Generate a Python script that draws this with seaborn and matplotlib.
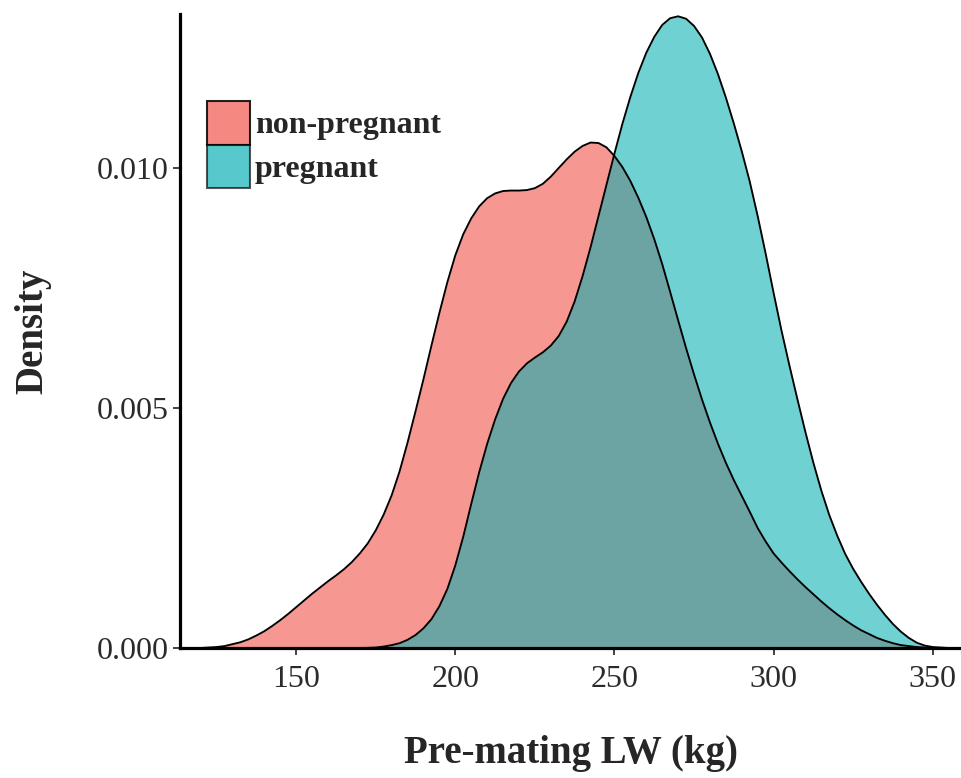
import numpy as np
import pandas as pd
import matplotlib
matplotlib.use("Agg")
import matplotlib.pyplot as plt
from matplotlib.patches import Patch
from matplotlib.ticker import FormatStrFormatter
import seaborn as sns

# Kernel density estimates of pre-mating live weight, by pregnancy status
groups = ["non-pregnant", "pregnant"]

nonpreg_lw = [120.0, 122.5, 125.0, 127.5, 130.0, 132.5, 135.0, 137.5, 140.0,
              142.5, 145.0, 147.5, 150.0, 152.5, 155.0, 157.5, 160.0, 162.5,
              165.0, 167.5, 170.0, 172.5, 175.0, 177.5, 180.0, 182.5, 185.0,
              187.5, 190.0, 192.5, 195.0, 197.5, 200.0, 202.5, 205.0, 207.5,
              210.0, 212.5, 215.0, 217.5, 220.0, 222.5, 225.0, 227.5, 230.0,
              232.5, 235.0, 237.5, 240.0, 242.5, 245.0, 247.5, 250.0, 252.5,
              255.0, 257.5, 260.0, 262.5, 265.0, 267.5, 270.0, 272.5, 275.0,
              277.5, 280.0, 282.5, 285.0, 287.5, 290.0, 292.5, 295.0, 297.5,
              300.0, 302.5, 305.0, 307.5, 310.0, 312.5, 315.0, 317.5, 320.0,
              322.5, 325.0, 327.5, 330.0, 332.5, 335.0, 337.5, 340.0, 342.5,
              345.0, 347.5, 350.0]
nonpreg_density = [0.0, 0.00001, 0.00002, 0.00004, 0.00008, 0.00012, 0.00018,
                   0.00026, 0.00035, 0.00046, 0.00058, 0.00071, 0.00085,
                   0.00099, 0.00113, 0.00126, 0.00139, 0.00151, 0.00164,
                   0.00179, 0.00197, 0.00218, 0.00245, 0.00278, 0.00318,
                   0.00368, 0.00428, 0.00493, 0.00560, 0.00630, 0.00698,
                   0.00762, 0.00818, 0.00862, 0.00895, 0.00920, 0.00937,
                   0.00947, 0.00952, 0.00953, 0.00953, 0.00954, 0.00958,
                   0.00967, 0.00982, 0.01000, 0.01018, 0.01034, 0.01046,
                   0.01053, 0.01052, 0.01043, 0.01025, 0.01002, 0.00973,
                   0.00938, 0.00898, 0.00852, 0.00800, 0.00742, 0.00683,
                   0.00625, 0.00570, 0.00518, 0.00470, 0.00426, 0.00386,
                   0.00350, 0.00317, 0.00284, 0.00250, 0.00222, 0.00197,
                   0.00178, 0.00160, 0.00143, 0.00127, 0.00112, 0.00097,
                   0.00083, 0.00070, 0.00058, 0.00047, 0.00037, 0.00029,
                   0.00021, 0.00015, 0.00010, 0.00006, 0.00004, 0.00002,
                   0.00001, 0.0]

preg_lw = [170.0, 172.5, 175.0, 177.5, 180.0, 182.5, 185.0, 187.5, 190.0,
           192.5, 195.0, 197.5, 200.0, 202.5, 205.0, 207.5, 210.0, 212.5,
           215.0, 217.5, 220.0, 222.5, 225.0, 227.5, 230.0, 232.5, 235.0,
           237.5, 240.0, 242.5, 245.0, 247.5, 250.0, 252.5, 255.0, 257.5,
           260.0, 262.5, 265.0, 267.5, 270.0, 272.5, 275.0, 277.5, 280.0,
           282.5, 285.0, 287.5, 290.0, 292.5, 295.0, 297.5, 300.0, 302.5,
           305.0, 307.5, 310.0, 312.5, 315.0, 317.5, 320.0, 322.5, 325.0,
           327.5, 330.0, 332.5, 335.0, 337.5, 340.0, 342.5, 345.0, 347.5,
           350.0, 352.5, 355.0]
preg_density = [0.0, 0.000003, 0.00001, 0.00003, 0.00006, 0.00010, 0.00017,
                0.00027, 0.00041, 0.00060, 0.00087, 0.00123, 0.00172,
                0.00232, 0.00300, 0.00366, 0.00425, 0.00476, 0.00519,
                0.00552, 0.00576, 0.00593, 0.00605, 0.00616, 0.00630,
                0.00650, 0.00680, 0.00722, 0.00775, 0.00835, 0.00900,
                0.00965, 0.01030, 0.01092, 0.01148, 0.01198, 0.01240,
                0.01273, 0.01298, 0.01312, 0.01316, 0.01311, 0.01296,
                0.01272, 0.01238, 0.01196, 0.01147, 0.01093, 0.01035,
                0.00972, 0.00900, 0.00822, 0.00740, 0.00661, 0.00588,
                0.00518, 0.00450, 0.00386, 0.00328, 0.00277, 0.00234,
                0.00196, 0.00165, 0.00138, 0.00113, 0.00090, 0.00069,
                0.00050, 0.00034, 0.00021, 0.00011, 0.00005, 0.00002,
                0.00001, 0.0]

x_ticks = [150, 200, 250, 300, 350]
y_ticks = [0.000, 0.005, 0.010]

df = pd.concat([
    pd.DataFrame({"lw": nonpreg_lw, "density": nonpreg_density, "status": groups[0]}),
    pd.DataFrame({"lw": preg_lw, "density": preg_density, "status": groups[1]}),
], ignore_index=True)

sns.set_theme(style="ticks")
plt.rcParams["font.family"] = ["Liberation Serif", "DejaVu Serif"]

fill_colors = {"non-pregnant": "#F4746C", "pregnant": "#00AEB2"}
fill_alpha = {"non-pregnant": 0.75, "pregnant": 0.56}

fig = plt.figure(figsize=(9.62, 7.78), dpi=100)
ax = fig.add_axes([0.1871, 0.1671, 0.8129, 0.8144])

for status in groups:
    sub = df[df["status"] == status]
    ax.fill_between(sub["lw"], 0, sub["density"], color=fill_colors[status],
                    alpha=fill_alpha[status], linewidth=0, zorder=2)
    sns.lineplot(data=sub, x="lw", y="density", color="black", linewidth=1.35,
                 sort=True, estimator=None, ax=ax, zorder=3)

ax.set_xlim(113.5, 359.2)
ax.set_ylim(0, 0.0132)
ax.set_xticks(x_ticks)
ax.set_yticks(y_ticks)
ax.yaxis.set_major_formatter(FormatStrFormatter("%.3f"))

for side in ["top", "right"]:
    ax.spines[side].set_visible(False)
for side in ["left", "bottom"]:
    ax.spines[side].set_linewidth(2.3)
    ax.spines[side].set_color("black")
    ax.spines[side].set_zorder(5)

ax.tick_params(axis="both", length=5, width=1.3, color="#333333",
               labelsize=23, labelcolor="#2b2b2b")
ax.tick_params(axis="x", pad=7)
ax.tick_params(axis="y", pad=3)

ax.set_xlabel("Pre-mating LW (kg)", fontsize=28, fontweight="bold",
              labelpad=30)
ax.set_ylabel("Density", fontsize=28, fontweight="bold", labelpad=33)

handles = [Patch(facecolor=fill_colors[g], alpha=fill_alpha[g] + 0.1,
                 edgecolor="black", linewidth=1.5) for g in groups]
for h in handles:
    h.set_edgecolor((0, 0, 0, 1))
leg = ax.legend(handles, groups, loc="upper left",
                bbox_to_anchor=(0.0345, 0.8633), frameon=False,
                prop={"weight": "bold", "size": 23},
                handlelength=1.35, handleheight=1.72, labelspacing=0.0,
                handletextpad=0.15, borderpad=0.0, borderaxespad=0.0)

fig.savefig("out.png", dpi=100)
